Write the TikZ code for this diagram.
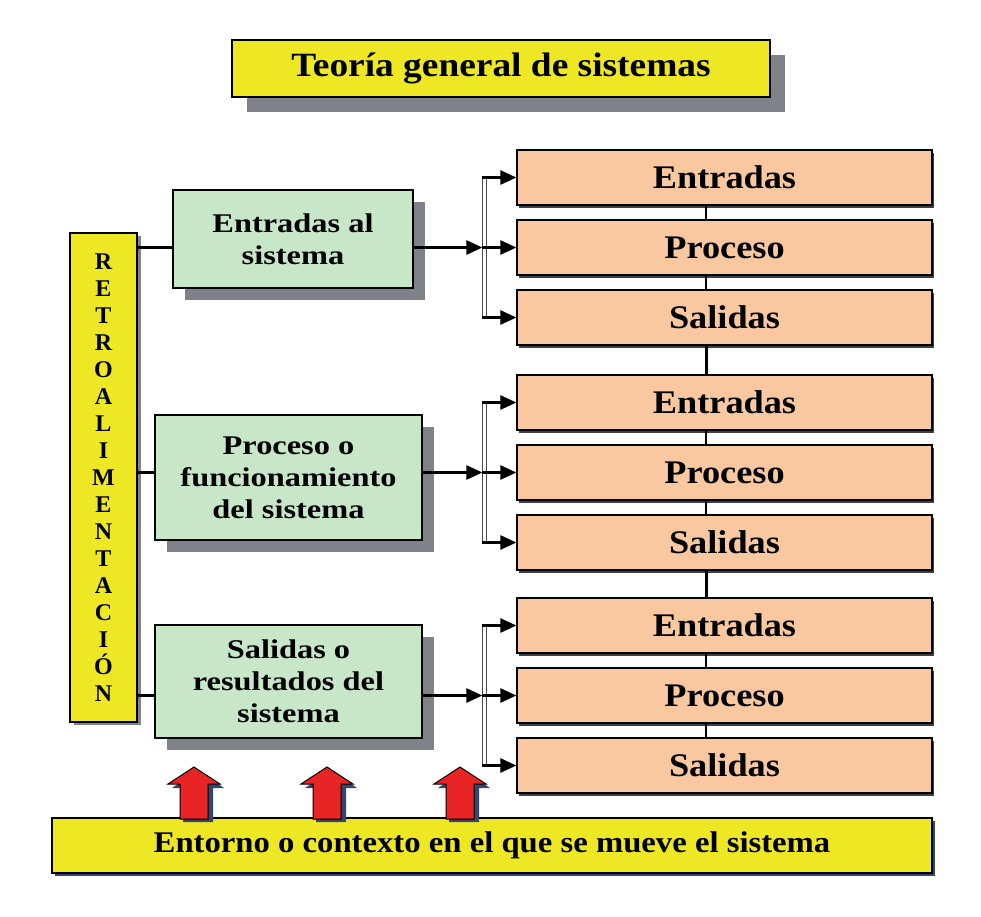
\documentclass[tikz,border=0pt]{standalone}
\usepackage{fontspec}
\setmainfont{Liberation Serif}
\newfontfamily\titlefont[FakeStretch=1.1]{Liberation Serif}
\newfontfamily\greenfont[FakeStretch=1.2]{Liberation Serif}
\newfontfamily\orfont[FakeStretch=1.1]{Liberation Serif}
\newfontfamily\botfont[FakeStretch=1.09]{Liberation Serif}
\usetikzlibrary{shadows,arrows.meta}
\definecolor{ylw}{RGB}{238,232,36}
\definecolor{grn}{RGB}{200,230,200}
\definecolor{org}{RGB}{250,200,160}
\definecolor{shd}{RGB}{128,130,138}
\definecolor{redA}{RGB}{232,36,36}
\definecolor{bshd}{RGB}{50,70,110}
\tikzset{
  box/.style={draw=black, line width=1.2pt, inner sep=0pt, align=center},
  ybox/.style={box, fill=ylw},
  gbox/.style={box, fill=grn, font=\greenfont\bfseries\fontsize{27}{32}\selectfont,
    general shadow={fill=shd, shadow xshift=12pt, shadow yshift=-12pt}},
  obox/.style={box, fill=org, minimum width=415pt, minimum height=55pt,
    font=\orfont\bfseries\fontsize{33}{38}\selectfont,
    general shadow={fill=black!75, shadow xshift=2pt, shadow yshift=-3pt}},
  conn/.style={line width=2.5pt, black},
  arr/.style={line width=2.5pt, black, -{Triangle[length=16pt,width=14pt]}},
  forkline/.style={draw=gray!60!black, line width=1.3pt, double=white, double distance=2.5pt},
  olink/.style={line width=1.5pt},
  olinkb/.style={line width=3pt},
  redarrow/.style={fill=redA, draw=black, line width=1pt},
  redshadow/.style={fill=bshd}
}
\begin{document}
\begin{tikzpicture}[x=1pt,y=-1pt]
\useasboundingbox (0,0) rectangle (981,916);
\fill[white] (0,0) rectangle (981,916);

% title
\node[ybox, minimum width=538pt, minimum height=57pt,
  general shadow={fill=shd, shadow xshift=15pt, shadow yshift=-15pt},
  font=\titlefont\bfseries\fontsize{34}{40}\selectfont] (title) at (501,68.5) {Teoría general de sistemas};

% feedback box
\node[ybox, minimum width=67pt, minimum height=489pt,
  general shadow={fill=shd, shadow xshift=4pt, shadow yshift=-3pt},
  font=\bfseries\fontsize{24}{27}\selectfont] (fb) at (103.5,477.5)
  {R\\E\\T\\R\\O\\A\\L\\I\\M\\E\\N\\T\\A\\C\\I\\Ó\\N};

% green boxes
\node[gbox, minimum width=240pt, minimum height=98pt] (g1) at (293,239) {Entradas al\\sistema};
\node[gbox, minimum width=267pt, minimum height=125pt] (g2) at (288.5,477.5) {Proceso o\\funcionamiento\\del sistema};
\node[gbox, minimum width=267pt, minimum height=113pt] (g3) at (288.5,681.5) {Salidas o\\resultados del\\sistema};

% orange boxes
\node[obox] (e1) at (724.5,177.5) {Entradas};
\node[obox] (p1) at (724.5,247.5) {Proceso};
\node[obox] (s1) at (724.5,317.5) {Salidas};
\node[obox] (e2) at (724.5,402.5) {Entradas};
\node[obox] (p2) at (724.5,472.5) {Proceso};
\node[obox] (s2) at (724.5,542.5) {Salidas};
\node[obox] (e3) at (724.5,625.5) {Entradas};
\node[obox] (p3) at (724.5,695.5) {Proceso};
\node[obox] (s3) at (724.5,765.5) {Salidas};

% links between orange boxes
\foreach \a/\b in {e1/p1,p1/s1,e2/p2,p2/s2,e3/p3,p3/s3}
  \draw[olink] ([xshift=-18.5pt]\a.south) -- ([xshift=-18.5pt]\b.north);
\foreach \a/\b in {s1/e2,s2/e3}
  \draw[olinkb] ([xshift=-18.5pt]\a.south) -- ([xshift=-18.5pt]\b.north);

% feedback lines
\foreach \g/\p in {g1/p1,g2/p2,g3/p3}
  \draw[conn] (fb.east |- \p.west) -- (\g.west |- \p.west);

% forks
\foreach \g/\e/\p/\s/\k in {g1/e1/p1/s1/1,g2/e2/p2/s2/2,g3/e3/p3/s3/3}{
  \coordinate (f\k) at ([xshift=-34pt]\p.west);
  \coordinate (ft\k) at (f\k |- \e.west);
  \coordinate (fb\k) at (f\k |- \s.west);
  \draw[forkline] ([xshift=2pt]ft\k) -- ([xshift=2pt]fb\k);
  \draw[arr] (\g.east |- \p.west) -- (f\k);
  \draw[arr] (ft\k) -- (\e.west);
  \draw[arr] (f\k) -- (\p.west);
  \draw[arr] (fb\k) -- (\s.west);
}

% bottom box
\node[ybox, minimum width=880pt, minimum height=55pt,
  general shadow={fill=bshd, shadow xshift=3pt, shadow yshift=-3pt},
  font=\botfont\bfseries\fontsize{30}{36}\selectfont] (env) at (492,845.5)
  {Entorno o contexto en el que se mueve el sistema};

% red block arrows
\foreach \cx in {194,327,460}{
  \fill[redshadow] (\cx+4,770) -- (\cx+30,788) -- (\cx+19,788) -- (\cx+19,822) -- (\cx-11,822) -- (\cx-11,788) -- (\cx-22,788) -- cycle;
  \draw[redarrow] (\cx,767) -- (\cx+26,784) -- (\cx+14,784) -- (\cx+14,819) -- (\cx-14,819) -- (\cx-14,784) -- (\cx-26,784) -- cycle;
}
\end{tikzpicture}
\end{document}
